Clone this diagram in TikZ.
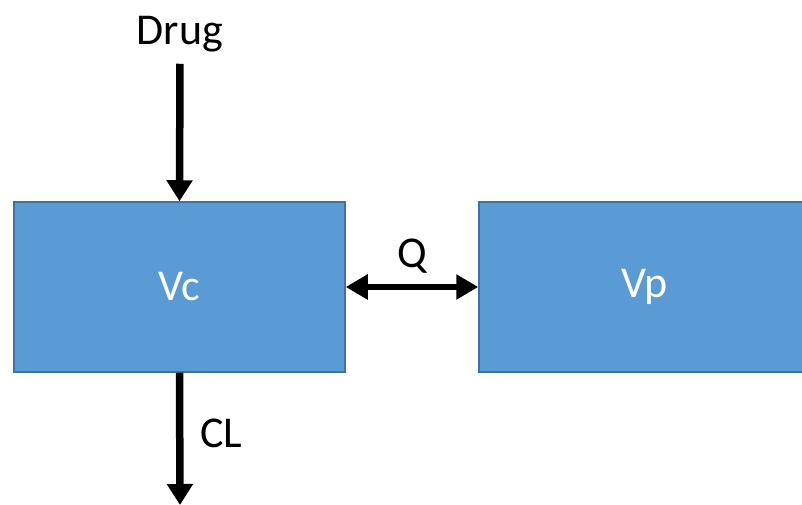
\documentclass[tikz,border=0pt]{standalone}
\usepackage{fontspec}
\setsansfont{Carlito}
\usepackage{tikz}
\usetikzlibrary{arrows.meta,positioning}
\definecolor{boxfill}{HTML}{5B9BD5}
\definecolor{boxline}{HTML}{41719C}

\begin{document}
\begin{tikzpicture}[x=1pt,y=1pt,
   font=\sffamily\fontsize{44}{48}\selectfont,
   comp/.style={draw=boxline,line width=1.5pt,fill=boxfill,text=white,minimum width=331pt,minimum height=170pt,inner sep=0pt},
   flow/.style={-{Triangle[width=25pt,length=21pt]},line width=7.5pt},
   exch/.style={{Triangle[width=24pt,length=22pt]}-{Triangle[width=24pt,length=22pt]},line width=6.5pt},
   every node/.style={inner sep=0pt}]
\useasboundingbox (0,0) rectangle (802,505);
\clip (0,0) rectangle (802,505);
\node[comp] (Vc) at (179.5,218) {Vc};
\node[comp] (Vp) at (644.5,218) {Vp};
\node[anchor=base] (drug) at (180,460) {Drug};
\coordinate (out) at (180,0);
\draw[flow,shorten <=11pt] (drug.south) -- (Vc.north);
\draw[flow] (Vc.south) -- (out);
\draw[exch] (Vc.east) -- node[above=10pt] {Q} (Vp.west);
\node (CL) at ([xshift=41pt,yshift=72pt]out) {CL};
\end{tikzpicture}
\end{document}
